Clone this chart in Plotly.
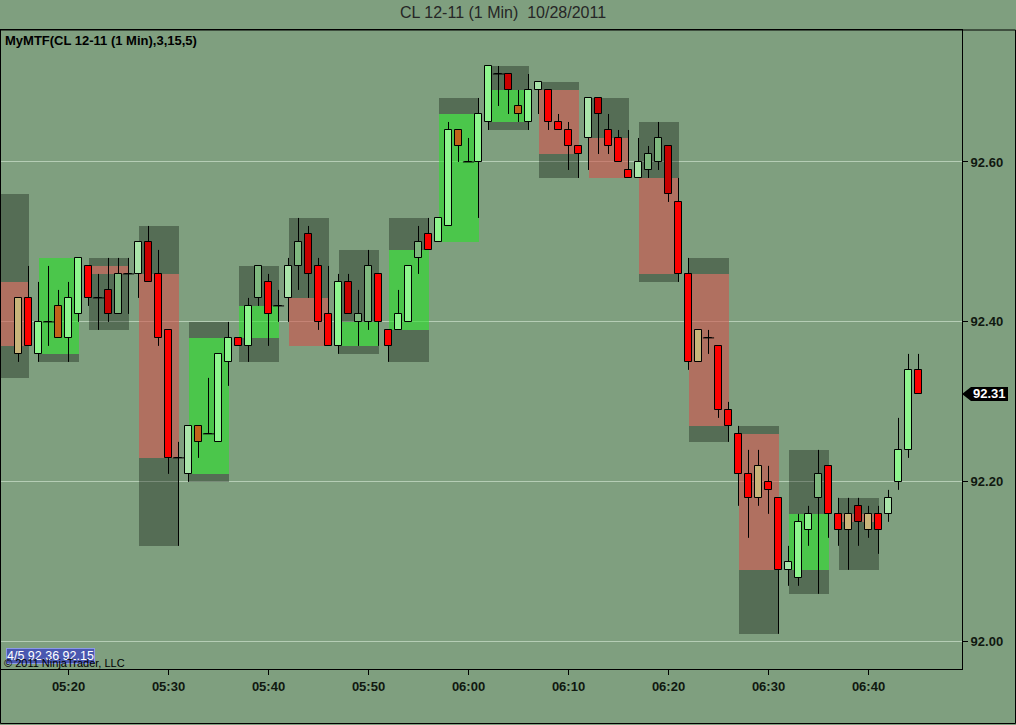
import numpy as np
import pandas as pd
import plotly.graph_objects as go

# 1 minute bars, CL 12-11, 10/28/2011 (first visible bar 05:15)
bar_open = [92.36, 92.43, 92.36, 92.40, 92.42, 92.38, 92.41, 92.47, 92.43, 92.44,
            92.41, 92.46, 92.46, 92.50, 92.46, 92.39, 92.23, 92.21, 92.27, 92.26,
            92.25, 92.35, 92.38, 92.37, 92.43, 92.45, 92.42, 92.43, 92.47, 92.51,
            92.47, 92.41, 92.37, 92.45, 92.40, 92.40, 92.46, 92.39, 92.39, 92.40,
            92.48, 92.51, 92.50, 92.52, 92.64, 92.60, 92.60, 92.65, 92.71, 92.71,
            92.67, 92.65, 92.69, 92.69, 92.65, 92.64, 92.62, 92.63, 92.68, 92.64,
            92.63, 92.59, 92.58, 92.59, 92.60, 92.62, 92.55, 92.46, 92.35, 92.38,
            92.37, 92.29, 92.26, 92.21, 92.18, 92.20, 92.18, 92.09, 92.08, 92.14,
            92.18, 92.22, 92.16, 92.14, 92.17, 92.14, 92.16, 92.16, 92.20, 92.24,
            92.34]
bar_high = [92.43, 92.47, 92.45, 92.47, 92.44, 92.45, 92.48, 92.47, 92.46, 92.48,
            92.48, 92.48, 92.50, 92.52, 92.49, 92.39, 92.25, 92.27, 92.27, 92.33,
            92.36, 92.40, 92.38, 92.43, 92.47, 92.46, 92.44, 92.48, 92.53, 92.52,
            92.48, 92.47, 92.46, 92.46, 92.44, 92.49, 92.46, 92.39, 92.44, 92.47,
            92.52, 92.53, 92.53, 92.65, 92.64, 92.63, 92.68, 92.72, 92.72, 92.71,
            92.69, 92.71, 92.70, 92.69, 92.66, 92.65, 92.62, 92.68, 92.68, 92.66,
            92.64, 92.64, 92.63, 92.62, 92.65, 92.62, 92.58, 92.48, 92.39, 92.39,
            92.37, 92.30, 92.27, 92.24, 92.24, 92.22, 92.18, 92.12, 92.16, 92.17,
            92.24, 92.22, 92.18, 92.18, 92.18, 92.17, 92.17, 92.19, 92.28, 92.36,
            92.36]
bar_low = [92.35, 92.37, 92.35, 92.37, 92.38, 92.35, 92.40, 92.42, 92.39, 92.40,
           92.41, 92.41, 92.43, 92.45, 92.37, 92.21, 92.12, 92.20, 92.23, 92.26,
           92.25, 92.32, 92.37, 92.35, 92.42, 92.37, 92.40, 92.40, 92.44, 92.43,
           92.39, 92.37, 92.36, 92.41, 92.37, 92.39, 92.37, 92.35, 92.39, 92.40,
           92.46, 92.49, 92.50, 92.52, 92.60, 92.60, 92.53, 92.64, 92.67, 92.66,
           92.65, 92.64, 92.66, 92.64, 92.64, 92.59, 92.58, 92.59, 92.61, 92.61,
           92.60, 92.58, 92.58, 92.58, 92.59, 92.55, 92.45, 92.34, 92.35, 92.36,
           92.28, 92.25, 92.17, 92.13, 92.17, 92.16, 92.01, 92.07, 92.07, 92.12,
           92.06, 92.13, 92.12, 92.09, 92.12, 92.13, 92.11, 92.15, 92.19, 92.23,
           92.31]
bar_close = [92.43, 92.37, 92.40, 92.40, 92.38, 92.43, 92.48, 92.43, 92.43, 92.41,
             92.46, 92.46, 92.50, 92.45, 92.38, 92.23, 92.23, 92.27, 92.25, 92.26,
             92.36, 92.38, 92.37, 92.42, 92.47, 92.41, 92.42, 92.47, 92.50, 92.46,
             92.40, 92.37, 92.45, 92.41, 92.41, 92.47, 92.40, 92.37, 92.41, 92.47,
             92.50, 92.49, 92.53, 92.64, 92.62, 92.60, 92.66, 92.72, 92.71, 92.69,
             92.66, 92.69, 92.70, 92.65, 92.64, 92.62, 92.61, 92.68, 92.66, 92.62,
             92.60, 92.58, 92.60, 92.61, 92.63, 92.56, 92.46, 92.35, 92.39, 92.38,
             92.29, 92.27, 92.21, 92.18, 92.22, 92.19, 92.09, 92.10, 92.15, 92.16,
             92.21, 92.16, 92.14, 92.16, 92.15, 92.16, 92.14, 92.18, 92.24, 92.34,
             92.31]
# indicator bar colouring
bar_kind = ['tan', 'red', 'lg', 'doji', 'org', 'lg', 'lg', 'red', 'doji', 'dred',
            'gg', 'doji', 'pg', 'dred', 'red', 'red', 'doji', 'pg', 'org', 'doji',
            'lg', 'lg', 'red', 'lg', 'gg', 'red', 'doji', 'pg', 'gg', 'dred',
            'red', 'red', 'lg', 'dred', 'gg', 'gg', 'red', 'red', 'lg', 'lg',
            'gg', 'red', 'lg', 'lg', 'org', 'doji', 'lg', 'lg', 'doji', 'dred',
            'org', 'lg', 'pg', 'red', 'red', 'red', 'red', 'pg', 'dred', 'red',
            'red', 'red', 'pg', 'gg', 'gg', 'dred', 'red', 'red', 'tan', 'doji',
            'red', 'red', 'red', 'red', 'tan', 'red', 'red', 'pg', 'lg', 'lg',
            'gg', 'red', 'red', 'tan', 'dred', 'tan', 'red', 'pg', 'lg', 'lg',
            'red']

# 5 minute boxes (MTF), centre bar time
box_open = [92.45, 92.36, 92.47, 92.46, 92.21, 92.38, 92.43, 92.37, 92.39,
            92.50, 92.65, 92.69, 92.63, 92.58, 92.46, 92.26, 92.09, 92.16]
box_high = [92.56, 92.48, 92.48, 92.52, 92.40, 92.47, 92.53, 92.49, 92.53,
            92.68, 92.72, 92.70, 92.68, 92.65, 92.48, 92.27, 92.24, 92.18]
box_low = [92.33, 92.35, 92.39, 92.12, 92.20, 92.35, 92.37, 92.36, 92.35,
           92.50, 92.64, 92.58, 92.58, 92.45, 92.25, 92.01, 92.06, 92.09]
box_close = [92.37, 92.48, 92.46, 92.23, 92.38, 92.42, 92.37, 92.40, 92.49,
             92.66, 92.69, 92.61, 92.58, 92.46, 92.27, 92.09, 92.16, 92.15]

bar_time = pd.date_range('2011-10-28 05:15', periods=len(bar_open), freq='min')
box_time = pd.date_range('2011-10-28 05:14', periods=len(box_open), freq='5min')

kind_colors = {'lg': '#8ef58e', 'pg': '#a9e3a9', 'gg': '#7fb77f', 'red': '#ff0000',
               'dred': '#c80000', 'org': '#c0641a', 'tan': '#c8b47a', 'doji': '#000000'}

BG = '#7f9f7f'
W, H = 1016, 725
L, R, T, B = 1, 54, 30, 56
PW, PH = W - L - R, H - T - B


def px_x(px):
    return (px - L) / PW


def px_y(py):
    return (H - B - py) / PH


o = np.array(bar_open); h = np.array(bar_high); l = np.array(bar_low); c = np.array(bar_close)
top = np.maximum(o, c); bot = np.minimum(o, c)
bo = np.array(box_open); bh = np.array(box_high); bl = np.array(box_low); bc = np.array(box_close)
btop = np.maximum(bo, bc); bbot = np.minimum(bo, bc)

fig = go.Figure()

# dark high/low parts of the 5 min boxes
fig.add_trace(go.Bar(
    x=list(box_time) + list(box_time),
    base=list(btop) + list(bl),
    y=list(bh - btop) + list(bbot - bl),
    width=4 * 60000,
    marker=dict(color='rgba(0,10,0,0.33)', line=dict(width=0)),
    hoverinfo='skip', showlegend=False))

# open/close part of the boxes
fig.add_trace(go.Bar(
    x=box_time, base=bbot, y=btop - bbot, width=4 * 60000,
    marker=dict(color=['rgba(40,225,40,0.6)' if cc > oo else 'rgba(209,81,75,0.6)'
                       for oo, cc in zip(box_open, box_close)],
                line=dict(width=0)),
    hoverinfo='skip', showlegend=False))

# wicks (drawn outside the bodies)
wx, wy = [], []
for t, hh, ll, tt, bb in zip(bar_time, h, l, top, bot):
    if hh > tt:
        wx += [t, t, None]; wy += [tt, hh, None]
    if bb > ll:
        wx += [t, t, None]; wy += [ll, bb, None]
fig.add_trace(go.Scatter(x=wx, y=wy, mode='lines', line=dict(color='black', width=1),
                         hoverinfo='skip', showlegend=False))

# candle bodies
fig.add_trace(go.Bar(
    x=bar_time, base=bot, y=top - bot, width=38000,
    marker=dict(color=[kind_colors[k] for k in bar_kind], line=dict(color='black', width=1)),
    customdata=np.stack([o, h, l, c], axis=-1),
    hovertemplate='%{x|%H:%M}<br>O %{customdata[0]:.2f}<br>H %{customdata[1]:.2f}'
                  '<br>L %{customdata[2]:.2f}<br>C %{customdata[3]:.2f}<extra></extra>',
    showlegend=False))

# dojis
doji = [i for i, k in enumerate(bar_kind) if k == 'doji']
fig.add_trace(go.Scatter(
    x=[bar_time[i] for i in doji], y=[c[i] for i in doji], mode='markers',
    marker=dict(symbol='line-ew', size=8, line=dict(color='black', width=1)),
    hoverinfo='skip', showlegend=False))

t0 = bar_time[0]
fig.update_xaxes(
    type='date',
    range=[t0 - pd.Timedelta(seconds=105), t0 + pd.Timedelta(seconds=5661)],
    tick0='2011-10-28 05:00', dtick=600000, tickformat='%H:%M',
    ticks='outside', ticklen=5, tickcolor='black',
    tickfont=dict(family='Liberation Sans', size=13, color='#101810', weight='bold'),
    showgrid=False, showline=True, linecolor='black', linewidth=1, mirror=True,
    zeroline=False, fixedrange=True)
fig.update_yaxes(
    side='right', range=[91.966, 92.765], tick0=92.0, dtick=0.2, tickformat='.2f',
    ticks='outside', ticklen=5, tickcolor='black',
    tickfont=dict(family='Liberation Sans', size=13, color='#101810', weight='bold'),
    showgrid=True, gridcolor='#b5cdb5', gridwidth=1,
    showline=True, linecolor='black', linewidth=1, mirror=True,
    zeroline=False, fixedrange=True)

last = bar_close[-1]
hp = 7 / 800  # half height of the price marker, in price units
fig.add_shape(type='path', xref='paper', yref='y',
              path=f'M {px_x(962)},{last} L {px_x(971)},{last + hp} L {px_x(1008)},{last + hp} '
                   f'L {px_x(1008)},{last - hp} L {px_x(971)},{last - hp} Z',
              fillcolor='black', line=dict(width=0), layer='above')
# outer frame
fig.add_shape(type='rect', xref='paper', yref='paper',
              x0=px_x(0.5), x1=px_x(1015.5), y0=px_y(723.5), y1=px_y(30),
              line=dict(color='black', width=1), layer='above')

fig.add_annotation(xref='paper', yref='y', x=px_x(989.5), y=last, text=f'{last:.2f}',
                   showarrow=False, xanchor='center', yanchor='middle',
                   font=dict(family='Liberation Sans', size=13, color='white', weight='bold'))
fig.add_annotation(xref='paper', yref='paper', x=px_x(503), y=px_y(12), yanchor='middle',
                   text='CL 12-11 (1 Min)  10/28/2011', showarrow=False,
                   font=dict(family='Liberation Sans', size=16, color='#262626'))
fig.add_annotation(xref='paper', yref='paper', x=px_x(3), y=px_y(40),
                   xanchor='left', yanchor='middle',
                   text='<b>MyMTF(CL 12-11 (1 Min),3,15,5)</b>', showarrow=False,
                   font=dict(family='Liberation Sans', size=13, color='black'))
n = 4
fig.add_annotation(xref='paper', yref='paper', x=px_x(6), y=px_y(656),
                   xanchor='left', yanchor='middle',
                   text=f'{n}/5 {max(bar_high[-n:]):.2f} {min(bar_low[-n:]):.2f}',
                   showarrow=False, bgcolor='#4a58b0', bordercolor='#8c98e8',
                   borderwidth=1, borderpad=0,
                   font=dict(family='Liberation Sans', size=12.5, color='white'))
fig.add_annotation(xref='paper', yref='paper', x=px_x(2), y=px_y(663),
                   xanchor='left', yanchor='middle',
                   text='© 2011 NinjaTrader, LLC', showarrow=False,
                   font=dict(family='Liberation Sans', size=11, color='black'))

fig.update_layout(
    width=W, height=H, margin=dict(l=L, r=R, t=T, b=B, autoexpand=False),
    paper_bgcolor=BG, plot_bgcolor=BG, barmode='overlay', bargap=0,
    showlegend=False, hovermode='closest')

# the page body has a default 8px margin; drop it so the figure fills the window
fig.write_html('out.html', config={'displayModeBar': False},
               post_script="document.body.style.margin='0';")
